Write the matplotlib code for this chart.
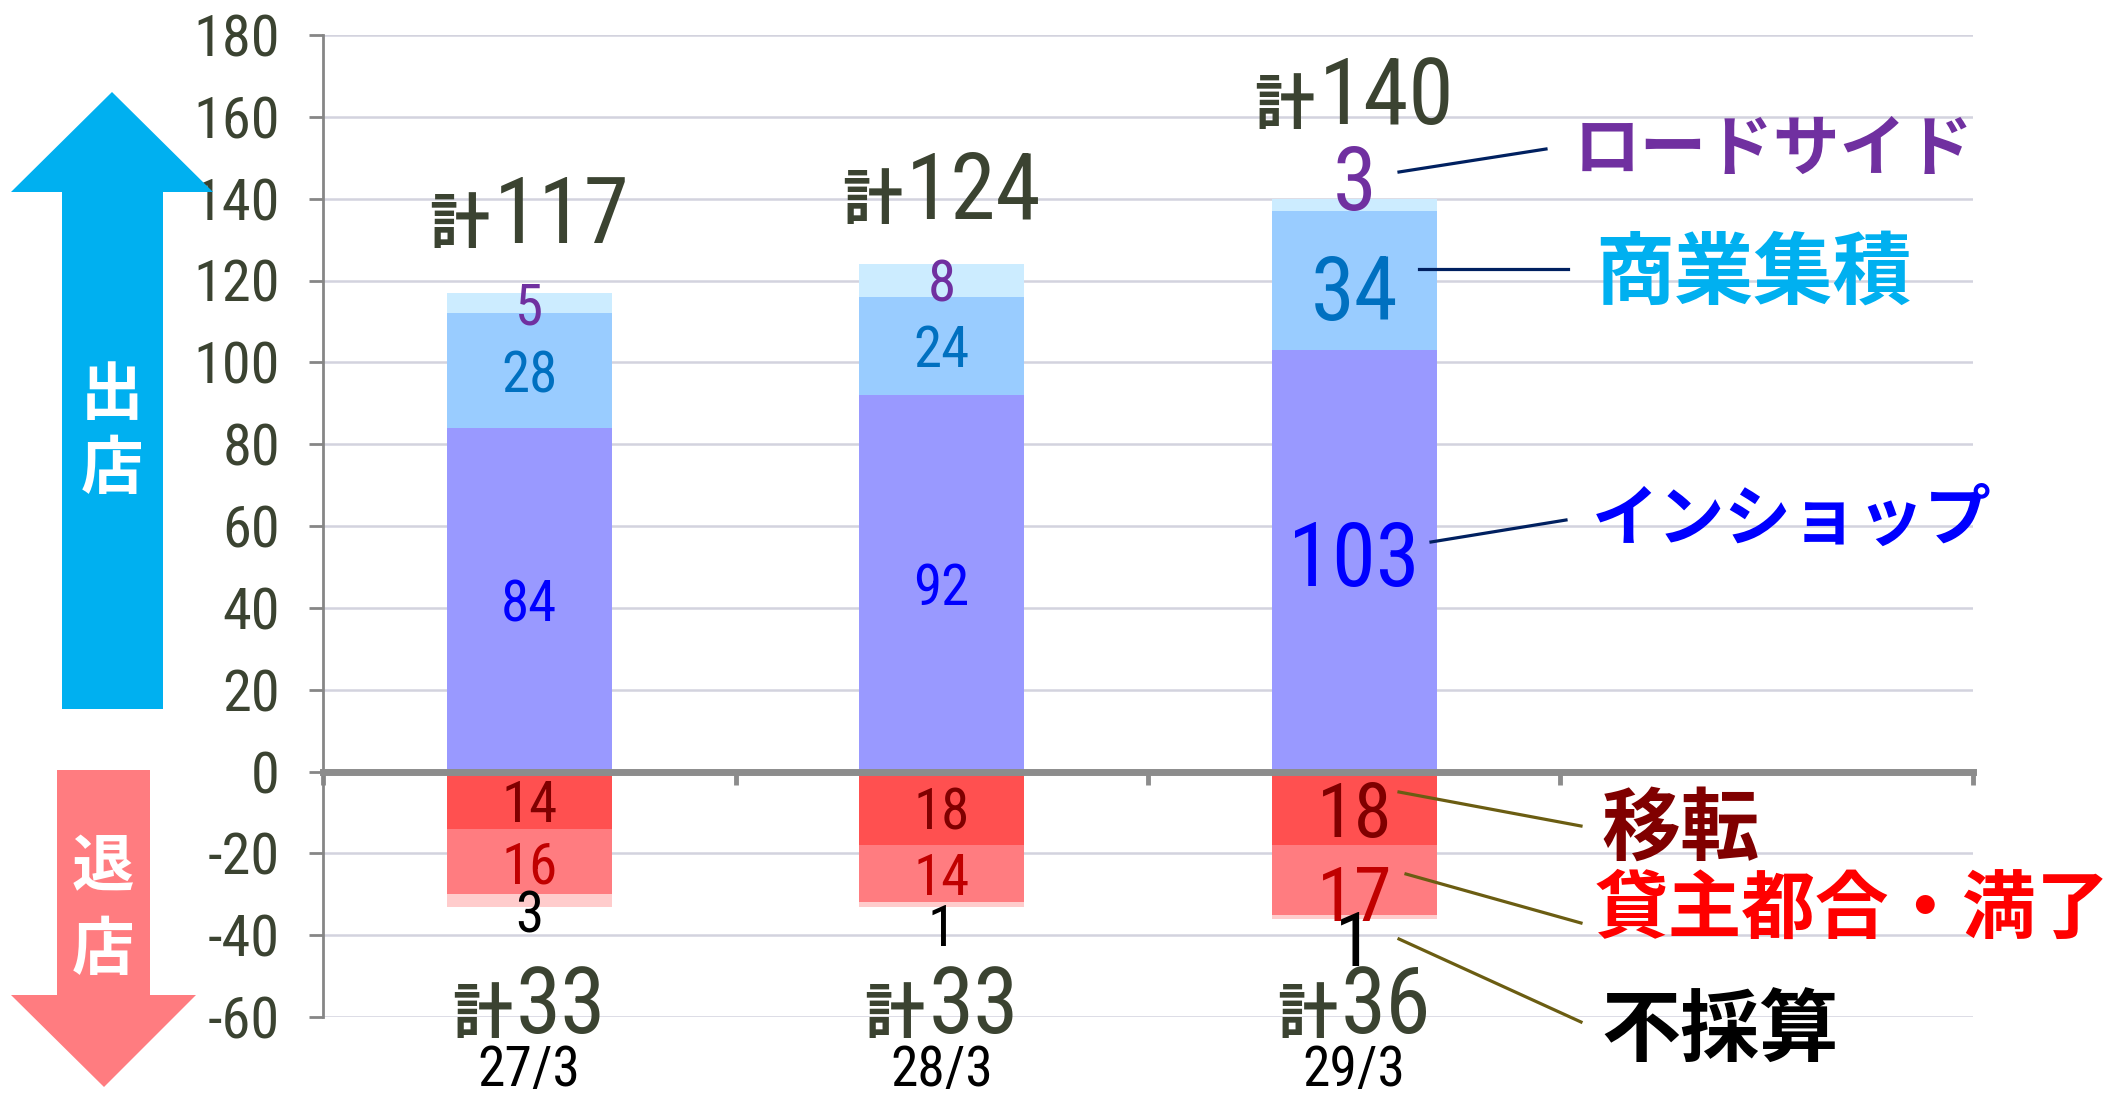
import numpy as np
import matplotlib
matplotlib.use("Agg")
import matplotlib.pyplot as plt
from matplotlib.patches import Polygon
from matplotlib.offsetbox import TextArea, HPacker, AnnotationBbox

W, H = 2110, 1097

# data
categories = ["27/3", "28/3", "29/3"]
inshop = np.array([84, 92, 103])      # インショップ
shogyo = np.array([28, 24, 34])       # 商業集積
roadside = np.array([5, 8, 3])        # ロードサイド
iten = np.array([14, 18, 18])         # 移転
kashinushi = np.array([16, 14, 17])   # 貸主都合・満了
fusaisan = np.array([3, 1, 1])        # 不採算

open_total = inshop + shogyo + roadside
close_total = iten + kashinushi + fusaisan

# label nudges (data units)
road_off = [0, 0, 7]
shogyo_off = [0, 0, -1.5]
inshop_off = [0, 0, 2]
iten_off = [0, 0, 0]
kashi_off = [0, 0, -3]
fusai_off = [-2.5, -5, -5]
pos_size = [41, 41, 64]
neg_size = [41, 41, 55]

# condensed digits, CJK from Noto
plt.rcParams['font.family'] = ['Roboto Condensed', 'Noto Sans CJK JP', 'DejaVu Sans']
plt.rcParams['font.stretch'] = 'condensed'
plt.rcParams['axes.unicode_minus'] = False

TXT = '#3b4331'

fig = plt.figure(figsize=(W / 100, H / 100), dpi=100)
ax = fig.add_axes([323 / W, 80 / H, (1973 - 323) / W, (1062 - 80) / H])

x = np.arange(len(categories)) + 0.5
bw = 0.4

ax.bar(x, inshop, bw, color='#9999FF', zorder=2)
ax.bar(x, shogyo, bw, bottom=inshop, color='#99CCFF', zorder=2)
ax.bar(x, roadside, bw, bottom=inshop + shogyo, color='#CCECFF', zorder=2)
ax.bar(x, -iten, bw, color='#FF5050', zorder=2)
ax.bar(x, -kashinushi, bw, bottom=-iten, color='#FF7C80', zorder=2)
ax.bar(x, -fusaisan, bw, bottom=-(iten + kashinushi), color='#FFCCCC', zorder=2)

def seg_labels(vals, base, off, color, sizes, sign=1):
    for i in range(len(vals)):
        mid = sign * (base[i] + vals[i] / 2.0) + off[i]
        ax.text(x[i], mid, str(vals[i]), ha='center', va='center_baseline',
                fontsize=sizes[i], color=color, zorder=4, clip_on=False)

zero = np.zeros(3)
seg_labels(inshop, zero, inshop_off, '#0000FF', pos_size)
seg_labels(shogyo, inshop, shogyo_off, '#0070C0', pos_size)
seg_labels(roadside, inshop + shogyo, road_off, '#7030A0', pos_size)
seg_labels(iten, zero, iten_off, '#800000', neg_size, -1)
seg_labels(kashinushi, iten, kashi_off, '#C00000', neg_size, -1)
seg_labels(fusaisan, iten + kashinushi, fusai_off, 'black', neg_size, -1)

# totals "計xxx"
top_gap = [7.5, 6.5, 13.5]
for i in range(3):
    for val, ybox in ((open_total[i], open_total[i] + top_gap[i]), (close_total[i], -68.5)):
        box = HPacker(children=[
            TextArea("計", textprops=dict(fontsize=43, color=TXT, weight='bold')),
            TextArea(str(val), textprops=dict(fontsize=66, color=TXT))],
            align='baseline', pad=0, sep=3)
        ab = AnnotationBbox(box, (x[i], ybox), xycoords='data', box_alignment=(0.5, 0.0),
                            frameon=False, pad=0, annotation_clip=False, zorder=5)
        ax.add_artist(ab)
    ax.text(x[i], -71.8, categories[i], ha='center', va='center_baseline',
            fontsize=40, color='black', clip_on=False)

ax.set_xlim(0, 4)
ax.set_ylim(-60, 180)
ax.set_yticks(np.arange(-60, 181, 20))
ax.set_xticks([0, 1, 2, 3, 4])
ax.set_xticklabels([])
ax.yaxis.grid(True, color='#D3D3DE', lw=1.8, zorder=0)
ax.set_axisbelow(True)
for s in ('top', 'right'):
    ax.spines[s].set_visible(False)
ax.spines['left'].set_color('#868686')
ax.spines['left'].set_linewidth(2)
ax.spines['bottom'].set_position(('data', 0))
ax.spines['bottom'].set_color('#8C8C8C')
ax.spines['bottom'].set_linewidth(5)
ax.spines['bottom'].set_zorder(3)
ax.tick_params(axis='x', direction='out', length=9, width=3.5, color='#8C8C8C')
ax.tick_params(axis='y', direction='out', length=10, width=2, color='#868686',
               labelsize=42, labelcolor=TXT, pad=21)

# overlay in pixel coords for arrows, side labels, leader lines
ov = fig.add_axes([0, 0, 1, 1], zorder=3)
ov.set_xlim(0, W)
ov.set_ylim(H, 0)
ov.axis('off')

ov.add_patch(Polygon([(62, 709), (62, 192), (11, 192), (112, 92), (213, 192), (163, 192), (163, 709)],
                     closed=True, color='#00B0F0', lw=0))
ov.add_patch(Polygon([(57, 770), (150, 770), (150, 995), (196, 995), (104, 1087), (11, 995), (57, 995)],
                     closed=True, color='#FF7C80', lw=0))
for ch, px, py in (("出", 112, 397), ("店", 112, 471), ("退", 103, 869), ("店", 103, 952)):
    ov.text(px, py, ch, ha='center', va='center', fontsize=45, weight='bold', color='white')

side = [
    ("ロードサイド", 1574, 152, '#7030A0', 48),
    ("商業集積", 1595, 276, '#00B0F0', 57),
    ("インショップ", 1592, 522, '#0000FF', 48),
    ("移転", 1601, 832, '#800000', 57),
    ("貸主都合・満了", 1595, 912, '#FF0000', 53),
    ("不採算", 1601, 1034, 'black', 57),
]
for t, px, py, c, fs in side:
    ov.text(px, py, t, ha='left', va='center', fontsize=fs, weight='bold', color=c)

navy = '#002060'
olive = '#6B5D12'
leaders = [
    ((1399, 1546), (172, 149), navy),
    ((1419, 1568), (269, 269), navy),
    ((1431, 1566), (542, 520), navy),
    ((1399, 1581), (792, 826), olive),
    ((1406, 1581), (874, 923), olive),
    ((1399, 1581), (939, 1022), olive),
]
for xs, ys, c in leaders:
    ov.plot(xs, ys, color=c, lw=2.3)

fig.savefig("out.png", dpi=100)
